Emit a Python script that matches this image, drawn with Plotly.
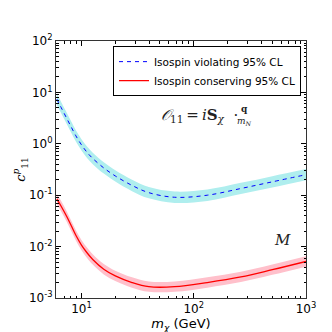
import plotly.graph_objects as go

# dark matter mass (GeV)
mass = [6.03, 6.61, 7.41, 8.13, 8.91, 10, 11.2, 12.6, 15.8, 20, 28.2, 39.8, 67.6, 132, 263, 501, 1000]

# isospin violating 95% CL (blue, dashed) with band
viol = [7.41, 5.01, 3.09, 2.09, 1.43, 0.955, 0.684, 0.519, 0.339, 0.237, 0.155, 0.112,
        0.0912, 0.1, 0.135, 0.182, 0.251]
viol_lo = [5.74, 3.88, 2.40, 1.62, 1.11, 0.740, 0.530, 0.402, 0.263, 0.184, 0.120, 0.0868,
           0.0707, 0.0775, 0.105, 0.141, 0.195]
viol_hi = [9.56, 6.46, 3.99, 2.70, 1.84, 1.23, 0.882, 0.670, 0.437, 0.306, 0.200, 0.144,
           0.118, 0.129, 0.174, 0.235, 0.324]

# isospin conserving 95% CL (red, solid) with band
cons = [0.0851, 0.0603, 0.038, 0.0251, 0.0166, 0.0107, 0.00759, 0.00562, 0.00363, 0.00269,
        0.002, 0.00166, 0.00166, 0.002, 0.00257, 0.00355, 0.00513]
cons_lo = [0.0676, 0.0479, 0.0302, 0.0199, 0.0132, 0.0085, 0.00603, 0.00446, 0.00288, 0.00214,
           0.00159, 0.00132, 0.00132, 0.00159, 0.00204, 0.00282, 0.00407]
cons_hi = [0.107, 0.076, 0.0479, 0.0316, 0.0209, 0.0135, 0.00956, 0.00708, 0.00457, 0.00339,
           0.00252, 0.00209, 0.00209, 0.00252, 0.00324, 0.00447, 0.00646]

y_tickvals = [1e-3, 1e-2, 1e-1, 1, 10, 100]
y_ticktext = ["10<sup>-3</sup>", "10<sup>-2</sup>", "10<sup>-1</sup>",
              "10<sup>0</sup>", "10<sup>1</sup>", "10<sup>2</sup>"]
y_minor = [k * 10.0 ** e for e in range(-3, 2) for k in range(2, 10)]
x_tickvals = [10, 100, 1000]
x_ticktext = ["10<sup>1</sup>", "10<sup>2</sup>", "10<sup>3</sup>"]
x_minor = [6, 7, 8, 9] + [k * 10.0 ** e for e in range(1, 3) for k in range(2, 10)]

fig = go.Figure()

# bands
fig.add_trace(go.Scatter(x=mass, y=viol_lo, mode='lines', line=dict(width=0, shape='spline'),
                         showlegend=False, hoverinfo='skip'))
fig.add_trace(go.Scatter(x=mass, y=viol_hi, mode='lines', line=dict(width=0, shape='spline'),
                         fill='tonexty', fillcolor='#afeeee', showlegend=False, hoverinfo='skip'))
fig.add_trace(go.Scatter(x=mass, y=cons_lo, mode='lines', line=dict(width=0, shape='spline'),
                         showlegend=False, hoverinfo='skip'))
fig.add_trace(go.Scatter(x=mass, y=cons_hi, mode='lines', line=dict(width=0, shape='spline'),
                         fill='tonexty', fillcolor='#ffc0cb', showlegend=False, hoverinfo='skip'))

# central lines
fig.add_trace(go.Scatter(x=mass, y=viol, mode='lines', name='Isospin violating 95% CL',
                         line=dict(color='#0000ff', width=1, dash='4px,4px', shape='spline')))
fig.add_trace(go.Scatter(x=mass, y=cons, mode='lines', name='Isospin conserving 95% CL',
                         line=dict(color='#ff0000', width=1.3, shape='spline')))

# operator label
fig.add_annotation(x=0.575, y=0.71, xref='paper', yref='paper', showarrow=False,
                   text="<i>𝒪</i><sub>11</sub>\u2009=\u2009<i>i</i><b>S</b><sub><i>χ</i></sub>  ·",
                   font=dict(family='DejaVu Serif', size=15, color='#222'),
                   xanchor='center', yanchor='middle')
fig.add_annotation(x=0.755, y=0.71, xref='paper', yref='paper', showarrow=False,
                   text="<b>q</b><br><i>m<sub>N</sub></i>",
                   font=dict(family='DejaVu Serif', size=9, color='#222'),
                   xanchor='center', yanchor='middle')
fig.add_annotation(x=0.905, y=0.225, xref='paper', yref='paper', showarrow=False,
                   text="<i>M</i>", font=dict(family='DejaVu Serif', size=15, color='#222'),
                   xanchor='center', yanchor='middle')

axis_common = dict(
    showgrid=False, zeroline=False, showline=True, linecolor='#333', linewidth=1,
    mirror='ticks', ticks='inside', ticklen=5, tickwidth=1, tickcolor='#000',
    tickfont=dict(family='DejaVu Sans', size=12, color='#000'),
)

fig.update_xaxes(type='log', range=[0.773, 3], tickvals=x_tickvals, ticktext=x_ticktext,
                 minor=dict(tickvals=x_minor, ticks='inside', ticklen=2.5, tickwidth=1,
                            tickcolor='#000', showgrid=False),
                 title=dict(text="<i>m</i><sub><i>χ</i></sub> (GeV)", standoff=2,
                            font=dict(family='DejaVu Sans', size=13, color='#000')),
                 **axis_common)
fig.update_yaxes(type='log', range=[-3, 2], tickvals=y_tickvals, ticktext=y_ticktext,
                 minor=dict(tickvals=y_minor, ticks='inside', ticklen=2.5, tickwidth=1,
                            tickcolor='#000', showgrid=False),
                 title=dict(text="<i>c</i><sup><i>p</i></sup><sub>11</sub>", standoff=0,
                            font=dict(family='DejaVu Serif', size=13, color='#000')),
                 **axis_common)

fig.update_layout(
    width=332, height=332,
    margin=dict(l=42, r=34, t=33, b=33),
    paper_bgcolor='white', plot_bgcolor='white',
    legend=dict(x=0.98, y=0.98, xanchor='right', yanchor='top', traceorder='normal',
                bgcolor='white', bordercolor='#000', borderwidth=1,
                font=dict(family='DejaVu Sans', size=10.5, color='#000'),
                tracegroupgap=0, itemwidth=30),
)

fig.write_html("out.html")
